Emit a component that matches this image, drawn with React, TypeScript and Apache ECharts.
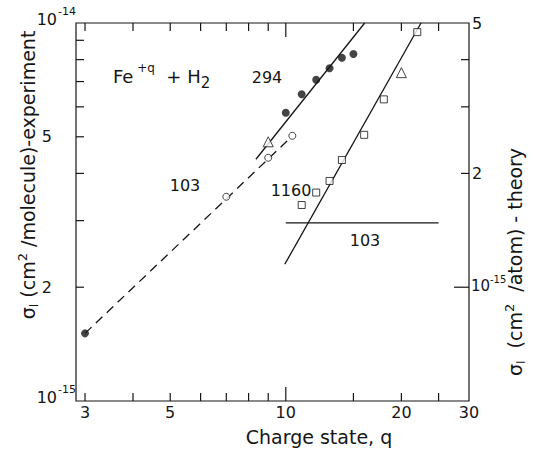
import React, { useEffect, useRef } from 'react';
import * as echarts from 'echarts';

// All cross sections in units of 1e-15 cm^2
const filledQ = [3, 10, 11, 12, 13, 14, 15];
const filledV = [1.51, 5.79, 6.48, 7.08, 7.59, 8.09, 8.28];
const openQ = [7, 9, 10.4];
const openV = [3.47, 4.4, 5.03];
const triQ = [9, 20];
const triV = [4.85, 7.39];
// theory (right axis, cm^2/atom)
const squareQ = [11, 12, 13, 14, 16, 18, 22];
const squareV = [1.65, 1.78, 1.91, 2.17, 2.53, 3.14, 4.73];

const fit294Q = [8.36, 16.05];
const fit294V = [4.36, 10];
const fit103Q = [3, 10.24];
const fit103V = [1.51, 4.95];
const th1160Q = [9.94, 22.5];
const th1160V = [1.15, 5];
const th103Q = [10, 25];
const th103V = [1.48, 1.48];

const xTicks = [3, 4, 5, 6, 7, 8, 9, 10, 15, 20, 25];
const xMajorTicks = [10];
const xLabels = [3, 5, 10, 20, 30];
const yLeftTicks = [2, 3, 4, 5, 6, 7, 8, 9];
const yLeftLabels = [1, 2, 5, 10];
const yRightTicks = [1, 2, 3, 4];
const yRightMajorTicks = [1];
const yRightLabels = [1, 2, 5];

const FONT = 'DejaVu Sans';
const INK = '#151515';

const X_MIN = 2.842;
const X_MAX = 30;

function powLabel(v: number): string | null {
  if (v === 1) return '-15';
  if (v === 10) return '-14';
  return null;
}

const titleRich = {
  m: { fontSize: 19, lineHeight: 24, fontFamily: FONT, fill: INK },
  p: { fontSize: 13, lineHeight: 13, verticalAlign: 'top', fontFamily: FONT, fill: INK },
  s: { fontSize: 12, lineHeight: 12, verticalAlign: 'bottom', fontFamily: FONT, fill: INK },
};

export default function App() {
  const ref = useRef<HTMLDivElement>(null);
  useEffect(() => {
    if (!ref.current) return;
    const chart = echarts.init(ref.current, undefined, { renderer: 'svg' });
    const lineStyle = { color: INK, width: 1.3 };
    const tickStyle = { stroke: INK, lineWidth: 1.2 };
    const label = (text: string, x: number, y: number, align = 'center', size = 16) => ({
      type: 'text', x, y,
      style: { text, align, verticalAlign: 'middle', fontSize: size, fontFamily: FONT, fill: INK },
    });

    const option: any = {
      animation: false,
      backgroundColor: '#fff',
      textStyle: { fontFamily: FONT },
      grid: {
        left: 76, top: 23, width: 393, height: 378,
        show: true, borderColor: INK, borderWidth: 1.2, backgroundColor: 'transparent',
      },
      xAxis: [{
        type: 'log', logBase: 10, min: X_MIN, max: X_MAX,
        axisLine: { show: false }, axisTick: { show: false },
        axisLabel: { show: false }, splitLine: { show: false },
      }],
      yAxis: [
        {
          type: 'log', logBase: 10, min: 1, max: 10, position: 'left',
          axisLine: { show: false }, axisTick: { show: false },
          axisLabel: { show: false }, splitLine: { show: false },
        },
        {
          type: 'log', logBase: 10, min: 0.5, max: 5, position: 'right',
          axisLine: { show: false }, axisTick: { show: false },
          axisLabel: { show: false }, splitLine: { show: false },
        },
      ],
      series: [
        {
          type: 'custom', xAxisIndex: 0, yAxisIndex: 0, silent: true, clip: false,
          data: xTicks.map((q) => [q, 1]),
          renderItem: (params: any, api: any) => {
            const q = api.value(0);
            const len = xMajorTicks.includes(q) ? 14 : 8;
            const b = api.coord([q, 1]);
            const t = api.coord([q, 10]);
            return {
              type: 'group',
              children: [
                { type: 'line', shape: { x1: b[0], y1: b[1], x2: b[0], y2: b[1] - len }, style: tickStyle },
                { type: 'line', shape: { x1: t[0], y1: t[1], x2: t[0], y2: t[1] + len }, style: tickStyle },
              ],
            };
          },
        },
        {
          type: 'custom', xAxisIndex: 0, yAxisIndex: 0, silent: true, clip: false,
          data: xLabels.map((q) => [q, 1]),
          renderItem: (params: any, api: any) => {
            const q = api.value(0);
            const b = api.coord([q, 1]);
            return {
              type: 'text', x: b[0], y: b[1] + 3,
              style: { text: String(q), align: 'center', verticalAlign: 'top', fontSize: 16, fontFamily: FONT, fill: INK },
            };
          },
        },
        {
          type: 'custom', xAxisIndex: 0, yAxisIndex: 0, silent: true, clip: false,
          data: yLeftTicks.map((v) => [X_MIN, v]),
          renderItem: (params: any, api: any) => {
            const v = api.value(1);
            const p = api.coord([X_MIN, v]);
            return { type: 'line', shape: { x1: p[0], y1: p[1], x2: p[0] + 8, y2: p[1] }, style: tickStyle };
          },
        },
        {
          type: 'custom', xAxisIndex: 0, yAxisIndex: 0, silent: true, clip: false,
          data: yLeftLabels.map((v) => [X_MIN, v]),
          renderItem: (params: any, api: any) => {
            const v = api.value(1);
            const p = api.coord([X_MIN, v]);
            const sup = powLabel(v);
            if (sup) {
              return {
                type: 'group',
                children: [
                  { type: 'text', x: p[0] - 19, y: p[1] - 4, style: { text: '10', align: 'right', verticalAlign: 'middle', fontSize: 16, fontFamily: FONT, fill: INK } },
                  { type: 'text', x: p[0] - 18, y: p[1] - 12, style: { text: sup, align: 'left', verticalAlign: 'middle', fontSize: 11, fontFamily: FONT, fill: INK } },
                ],
              };
            }
            return { type: 'text', x: p[0] - 24, y: p[1], style: { text: String(v), align: 'right', verticalAlign: 'middle', fontSize: 16, fontFamily: FONT, fill: INK } };
          },
        },
        {
          type: 'custom', xAxisIndex: 0, yAxisIndex: 1, silent: true, clip: false,
          data: yRightTicks.map((v) => [X_MAX, v]),
          renderItem: (params: any, api: any) => {
            const v = api.value(1);
            const len = yRightMajorTicks.includes(v) ? 15 : 8;
            const p = api.coord([X_MAX, v]);
            return { type: 'line', shape: { x1: p[0], y1: p[1], x2: p[0] - len, y2: p[1] }, style: tickStyle };
          },
        },
        {
          type: 'custom', xAxisIndex: 0, yAxisIndex: 1, silent: true, clip: false,
          data: yRightLabels.map((v) => [X_MAX, v]),
          renderItem: (params: any, api: any) => {
            const v = api.value(1);
            const p = api.coord([X_MAX, v]);
            if (v === 1) {
              return {
                type: 'group',
                children: [
                  { type: 'text', x: p[0] + 2, y: p[1] - 1, style: { text: '10', align: 'left', verticalAlign: 'middle', fontSize: 15, fontFamily: FONT, fill: INK } },
                  { type: 'text', x: p[0] + 21, y: p[1] - 8, style: { text: '-15', align: 'left', verticalAlign: 'middle', fontSize: 10, fontFamily: FONT, fill: INK } },
                ],
              };
            }
            return { type: 'text', x: p[0] + 3, y: p[1], style: { text: String(v), align: 'left', verticalAlign: 'middle', fontSize: 16, fontFamily: FONT, fill: INK } };
          },
        },
        {
          name: '294 fit', type: 'line', xAxisIndex: 0, yAxisIndex: 0, symbol: 'none', silent: true,
          lineStyle, data: fit294Q.map((q, i) => [q, fit294V[i]]),
        },
        {
          name: '103 fit', type: 'line', xAxisIndex: 0, yAxisIndex: 0, symbol: 'none', silent: true,
          lineStyle: { ...lineStyle, type: [9, 6] }, data: fit103Q.map((q, i) => [q, fit103V[i]]),
        },
        {
          name: '1160 theory', type: 'line', xAxisIndex: 0, yAxisIndex: 1, symbol: 'none', silent: true,
          lineStyle, data: th1160Q.map((q, i) => [q, th1160V[i]]),
        },
        {
          name: '103 theory', type: 'line', xAxisIndex: 0, yAxisIndex: 1, symbol: 'none', silent: true,
          lineStyle, data: th103Q.map((q, i) => [q, th103V[i]]),
        },
        {
          name: 'filled', type: 'scatter', xAxisIndex: 0, yAxisIndex: 0, symbol: 'circle', symbolSize: 8,
          itemStyle: { color: INK }, data: filledQ.map((q, i) => [q, filledV[i]]), z: 5,
        },
        {
          name: 'open', type: 'scatter', xAxisIndex: 0, yAxisIndex: 0, symbol: 'circle', symbolSize: 7,
          itemStyle: { color: '#fff', borderColor: INK, borderWidth: 1 }, data: openQ.map((q, i) => [q, openV[i]]), z: 5,
        },
        {
          name: 'triangle', type: 'scatter', xAxisIndex: 0, yAxisIndex: 0, symbol: 'triangle', symbolSize: 10,
          itemStyle: { color: '#fff', borderColor: INK, borderWidth: 1 }, data: triQ.map((q, i) => [q, triV[i]]), z: 5,
        },
        {
          name: 'square', type: 'scatter', xAxisIndex: 0, yAxisIndex: 1, symbol: 'rect', symbolSize: 7,
          itemStyle: { color: '#fff', borderColor: INK, borderWidth: 1 }, data: squareQ.map((q, i) => [q, squareV[i]]), z: 5,
        },
      ],
      graphic: [
        {
          type: 'text', x: 113, y: 76,
          style: {
            text: '{m|Fe}{p| +q}{m|  + H}{s|2}',
            verticalAlign: 'middle', fill: INK, fontFamily: FONT,
            rich: {
              m: { fontSize: 18, lineHeight: 28, fontFamily: FONT, fill: INK },
              p: { fontSize: 12, lineHeight: 12, verticalAlign: 'top', fontFamily: FONT, fill: INK },
              s: { fontSize: 15, lineHeight: 15, verticalAlign: 'bottom', fontFamily: FONT, fill: INK },
            },
          },
        },
        label('294', 267, 77),
        label('103', 185, 185),
        label('1160', 291, 190),
        label('103', 365, 240),
        label('Charge state, q', 319, 437, 'center', 19),
        {
          type: 'text', x: 28, y: 175, rotation: Math.PI / 2,
          style: {
            text: '{m|σ}{s|I}{m| (cm}{p|2}{m| /molecule)-experiment}',
            align: 'center', verticalAlign: 'middle', fill: INK, fontFamily: FONT, rich: titleRich,
          },
        },
        {
          type: 'text', x: 515, y: 262, rotation: Math.PI / 2,
          style: {
            text: '{m|σ}{s|I}{m|  (cm}{p|2}{m|  /atom) - theory}',
            align: 'center', verticalAlign: 'middle', fill: INK, fontFamily: FONT, rich: titleRich,
          },
        },
      ],
    };
    chart.setOption(option);
    return () => chart.dispose();
  }, []);
  return <div ref={ref} style={{ position: 'fixed', left: 0, top: 0, width: 533, height: 449, background: '#fff' }} />;
}
